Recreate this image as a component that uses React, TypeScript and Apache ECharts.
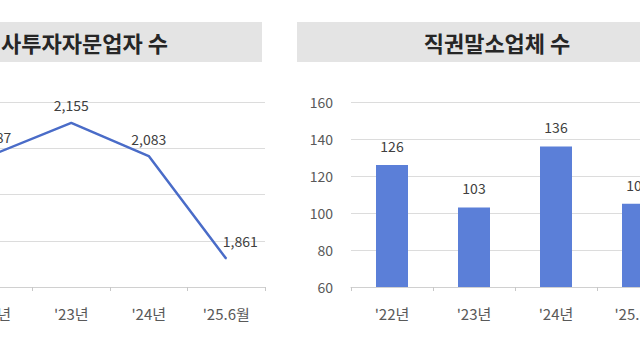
import React, { useEffect, useRef } from "react";
import * as echarts from "echarts";

const leftTitle = "사투자자문업자 수";
const rightTitle = "직권말소업체 수";
const leftCategories = ["'22년", "'23년", "'24년", "'25.6월"];
const leftValues = [2087, 2155, 2083, 1861];
const rightCategories = ["'22년", "'23년", "'24년", "'25.6월"];
const rightValues = [126, 103, 136, 105];

const FONT = "'Noto Sans CJK KR', 'Noto Sans', sans-serif";

export default function App() {
  const ref = useRef<HTMLDivElement>(null);
  useEffect(() => {
    if (!ref.current) return;
    const chart = echarts.init(ref.current, null, { renderer: "svg" });
    const axisLabel = { color: "#595959", fontSize: 15, fontFamily: FONT, margin: 19 };
    chart.setOption({
      animation: false,
      backgroundColor: "#ffffff",
      textStyle: { fontFamily: FONT },
      graphic: [
        { type: "rect", shape: { x: 0, y: 22, width: 262, height: 40 }, style: { fill: "#e4e4e4" } },
        { type: "rect", shape: { x: 297, y: 22, width: 343, height: 40 }, style: { fill: "#e4e4e4" } },
        {
          type: "text",
          x: 1,
          y: 42,
          style: { text: leftTitle, fontSize: 22, fontWeight: "bold", fill: "#262626", fontFamily: FONT, textVerticalAlign: "middle", textAlign: "left" },
        },
        {
          type: "text",
          x: 497,
          y: 42,
          style: { text: rightTitle, fontSize: 22, fontWeight: "bold", fill: "#262626", fontFamily: FONT, textVerticalAlign: "middle", textAlign: "center" },
        },
      ],
      grid: [
        { left: -45, width: 310, top: 102, height: 185, outerBoundsMode: "none", containLabel: false },
        { left: 351, width: 328, top: 102, height: 185, outerBoundsMode: "none", containLabel: false },
      ],
      xAxis: [
        {
          type: "category",
          gridIndex: 0,
          data: leftCategories,
          axisLine: { lineStyle: { color: "#d0d0d0" } },
          axisTick: { show: true, length: 4, lineStyle: { color: "#c8c8c8" } },
          axisLabel,
        },
        {
          type: "category",
          gridIndex: 1,
          data: rightCategories,
          axisLine: { lineStyle: { color: "#d0d0d0" } },
          axisTick: { show: true, length: 4, lineStyle: { color: "#c8c8c8" } },
          axisLabel,
        },
      ],
      yAxis: [
        {
          type: "value",
          gridIndex: 0,
          min: 1800,
          max: 2200,
          interval: 100,
          axisLabel: { show: false },
          axisLine: { show: false },
          axisTick: { show: false },
          splitLine: { lineStyle: { color: "#dcdcdc" } },
        },
        {
          type: "value",
          gridIndex: 1,
          min: 60,
          max: 160,
          interval: 20,
          axisLabel: { color: "#595959", fontSize: 14, fontFamily: FONT, margin: 18 },
          axisLine: { show: false },
          axisTick: { show: false },
          splitLine: { lineStyle: { color: "#dcdcdc" } },
        },
      ],
      series: [
        {
          type: "line",
          xAxisIndex: 0,
          yAxisIndex: 0,
          data: leftValues.map((v, i) =>
            i === leftValues.length - 1
              ? { value: v, label: { offset: [14, 0] } }
              : v
          ),
          symbol: "circle",
          symbolSize: 1,
          showSymbol: true,
          itemStyle: { color: "#4a6cc8" },
          lineStyle: { color: "#4a6cc8", width: 2.5 },
          label: {
            show: true,
            position: "top",
            distance: 10,
            color: "#404040",
            fontSize: 14,
            fontFamily: FONT,
            formatter: (p: any) => Number(p.value).toLocaleString("en-US"),
          },
        },
        {
          type: "bar",
          xAxisIndex: 1,
          yAxisIndex: 1,
          data: rightValues,
          barWidth: 32,
          itemStyle: { color: "#5b7fd8" },
          label: {
            show: true,
            position: "top",
            distance: 12,
            color: "#404040",
            fontSize: 14,
            fontFamily: FONT,
          },
        },
      ],
    });
    return () => chart.dispose();
  }, []);
  return (
    <div
      ref={ref}
      style={{ position: "fixed", left: 0, top: 0, width: 640, height: 360 }}
    />
  );
}
